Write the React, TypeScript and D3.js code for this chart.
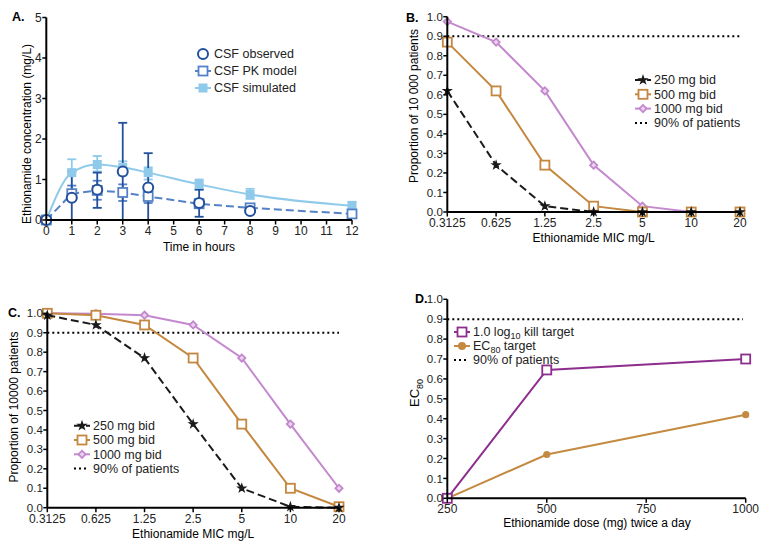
import React from "react";
import * as d3 from "d3";

// ---------- Panel A data ----------
const timeHours = [0, 1, 2, 3, 4, 6, 8, 12];
const obsTimes = [0, 1, 2, 3, 4, 6, 8];
const obsMean = [0, 0.55, 0.75, 1.2, 0.8, 0.42, 0.22];
const obsLow = [0, 0, 0.3, 0, 0, 0.08, 0.22];
const obsHigh = [0, 1.2, 1.17, 2.4, 1.65, 0.75, 0.22];
const pkMean = [0, 0.65, 0.73, 0.68, 0.58, 0.4, 0.3, 0.15];
const pkLow = [0, 0.5, 0.5, 0.47, 0.42, 0.3, 0.25, 0.05];
const pkHigh = [0, 0.85, 0.97, 0.88, 0.75, 0.52, 0.35, 0.25];
const simMean = [0, 1.17, 1.37, 1.3, 1.17, 0.88, 0.63, 0.35];
const simLow = [0, 0.6, 1.2, 1.1, 1.0, 0.75, 0.52, 0.25];
const simHigh = [0, 1.5, 1.58, 1.45, 1.3, 1.0, 0.77, 0.45];
const aXTicks = [0, 1, 2, 3, 4, 5, 6, 7, 8, 9, 10, 11, 12];
const aYTicks = [0, 1, 2, 3, 4, 5];

// ---------- Panels B & C data ----------
const micValues = [0.3125, 0.625, 1.25, 2.5, 5, 10, 20];
const micLabels = ["0.3125", "0.625", "1.25", "2.5", "5", "10", "20"];
const b250 = [0.62, 0.24, 0.03, 0.0, 0.0, 0.0, 0.0];
const b500 = [0.87, 0.62, 0.24, 0.03, 0.0, 0.0, 0.0];
const b1000 = [0.975, 0.87, 0.62, 0.24, 0.03, 0.0, 0.0];
const c250 = [0.99, 0.94, 0.77, 0.43, 0.1, 0.005, 0.0];
const c500 = [1.0, 0.99, 0.94, 0.77, 0.43, 0.1, 0.005];
const c1000 = [1.0, 0.998, 0.99, 0.94, 0.77, 0.43, 0.1];
const propTicks = [0, 0.1, 0.2, 0.3, 0.4, 0.5, 0.6, 0.7, 0.8, 0.9, 1.0];
const targetLevel = 0.9;

// ---------- Panel D data ----------
const doses = [250, 500, 1000];
const doseTicks = [250, 500, 750, 1000];
const killTarget = [0, 0.645, 0.7];
const ec80Target = [0, 0.22, 0.42];

const FONT = "'Liberation Sans', Arial, Helvetica, sans-serif";
const C_OBS = "#23509c";
const C_PK = "#5582c6";
const C_SIM = "#8fcaea";
const C_250 = "#1a1a1a";
const C_500 = "#c4873f";
const C_1000 = "#c488cf";
const C_KILL = "#8d2d8e";
const C_EC80 = "#c48a42";

function YAxis({ y, x, ticks, fmt, top, bottom, fs = 11.5 }: any) {
  return (
    <g>
      <line x1={x} x2={x} y1={top} y2={bottom} stroke="#000" strokeWidth={2} />
      {ticks.map((t: number) => (
        <g key={t}>
          <line x1={x - 4} x2={x} y1={y(t)} y2={y(t)} stroke="#000" strokeWidth={1.5} />
          <text x={x - 4.5} y={y(t) + 4.1} textAnchor="end" fontSize={fs} fill="#222">
            {fmt(t)}
          </text>
        </g>
      ))}
    </g>
  );
}

function XAxis({ x, y, ticks, labels, left, right }: any) {
  return (
    <g>
      <line x1={left} x2={right} y1={y} y2={y} stroke="#000" strokeWidth={2} />
      {ticks.map((t: number, i: number) => (
        <g key={i}>
          <line x1={x(t)} x2={x(t)} y1={y} y2={y + 4.5} stroke="#000" strokeWidth={1.5} />
          <text x={x(t)} y={y + 15} textAnchor="middle" fontSize={12} fill="#222">
            {labels ? labels[i] : t}
          </text>
        </g>
      ))}
    </g>
  );
}

const sym = (type: any, size: number) => d3.symbol().type(type).size(size)()!;

function Marker({ kind, x, y, color }: any) {
  if (kind === "star")
    return <path d={sym(d3.symbolStar, 18)} transform={`translate(${x},${y})`} fill={color} stroke={color} strokeWidth={1.2} />;
  if (kind === "openSquare")
    return <rect x={x - 4.5} y={y - 4.5} width={9} height={9} fill="#fff" stroke={color} strokeWidth={1.8} />;
  if (kind === "diamond")
    return <path d={sym(d3.symbolSquare, 26)} transform={`translate(${x},${y}) rotate(45)`} fill="#ead3ee" stroke={color} strokeWidth={1.8} />;
  if (kind === "circleFill")
    return <circle cx={x} cy={y} r={3.6} fill={color} />;
  if (kind === "squareFill")
    return <rect x={x - 4.5} y={y - 4.5} width={9} height={9} fill={color} />;
  if (kind === "openCircle")
    return <circle cx={x} cy={y} r={5} fill="#fff" stroke={color} strokeWidth={2} />;
  return null;
}

function Series({ xs, ys, x, y, color, dash, kind, curve }: any) {
  const line = d3
    .line<number>()
    .x((_, i) => x(xs[i]))
    .y((v) => y(v))
    .curve(curve || d3.curveLinear);
  return (
    <g>
      <path d={line(ys)!} fill="none" stroke={color} strokeWidth={2} strokeDasharray={dash || null} />
      {ys.map((v: number, i: number) => (
        <Marker key={i} kind={kind} x={x(xs[i])} y={y(v)} color={color} />
      ))}
    </g>
  );
}

function ErrorBars({ xs, lo, hi, x, y, color, w = 1.8 }: any) {
  return (
    <g>
      {xs.map((t: number, i: number) =>
        hi[i] - lo[i] > 0.001 ? (
          <g key={i} stroke={color} strokeWidth={w}>
            <line x1={x(t)} x2={x(t)} y1={y(lo[i])} y2={y(hi[i])} />
            <line x1={x(t) - 4.5} x2={x(t) + 4.5} y1={y(lo[i])} y2={y(lo[i])} />
            <line x1={x(t) - 4.5} x2={x(t) + 4.5} y1={y(hi[i])} y2={y(hi[i])} />
          </g>
        ) : null
      )}
    </g>
  );
}

function LegendRow({ x, y, color, kind, dash, label, line = true }: any) {
  return (
    <g>
      {line && (
        <line x1={x - 8} x2={x + 8} y1={y} y2={y} stroke={color} strokeWidth={2} strokeDasharray={dash || null} />
      )}
      <Marker kind={kind} x={x} y={y} color={color} />
      <text x={x + 11} y={y + 4.3} fontSize={12.5} fill="#222">
        {label}
      </text>
    </g>
  );
}

function DotLegend({ x, y, label }: any) {
  return (
    <g>
      <line x1={x - 8} x2={x + 6} y1={y} y2={y} stroke="#000" strokeWidth={2} strokeDasharray="2,3" />
      <text x={x + 11} y={y + 4.3} fontSize={12.5} fill="#222">
        {label}
      </text>
    </g>
  );
}

function PanelA() {
  const x = d3.scaleLinear().domain([0, 12]).range([46.3, 352]);
  const y = d3.scaleLinear().domain([0, 5]).range([220, 17.5]);
  return (
    <g>
      <text x={12} y={21} fontSize={12.5} fontWeight="bold">A.</text>
      <ErrorBars xs={timeHours} lo={simLow} hi={simHigh} x={x} y={y} color={C_SIM} />
      <ErrorBars xs={timeHours} lo={pkLow} hi={pkHigh} x={x} y={y} color={C_PK} />
      <ErrorBars xs={obsTimes} lo={obsLow} hi={obsHigh} x={x} y={y} color={C_OBS} />
      <Series xs={timeHours} ys={simMean} x={x} y={y} color={C_SIM} kind="squareFill" curve={d3.curveMonotoneX} />
      <Series xs={timeHours} ys={pkMean} x={x} y={y} color={C_PK} kind="openSquare" dash="8,4" />
      {obsMean.map((v, i) => (
        <Marker key={i} kind="openCircle" x={x(obsTimes[i])} y={y(v)} color={C_OBS} />
      ))}
      <YAxis y={y} x={46.3} ticks={aYTicks} fmt={(t: number) => String(t)} top={17.5} bottom={220} fs={12} />
      <XAxis x={x} y={220} ticks={aXTicks} left={46.3} right={352} />
      <text x={199} y={251} textAnchor="middle" fontSize={12}>Time in hours</text>
      <text transform="translate(31,134) rotate(-90)" textAnchor="middle" fontSize={12}>
        Ethionamide concentration (mg/L)
      </text>
      <LegendRow x={203} y={54} color={C_OBS} kind="openCircle" label="CSF observed" line={false} />
      <LegendRow x={203} y={71} color={C_PK} kind="openSquare" label="CSF PK model" />
      <LegendRow x={203} y={88} color={C_SIM} kind="squareFill" label="CSF simulated" />
    </g>
  );
}

function MicPanel({ label, lx, ly, xL, xR, y0, y1, s250, s500, s1000, legX, legY, ytitle, titleX, titleY }: any) {
  const x = d3.scaleLog().domain([0.3125, 20]).range([xL, xR]);
  const y = d3.scaleLinear().domain([0, 1]).range([y0, y1]);
  const dy = 14.3;
  return (
    <g>
      <text x={lx} y={ly} fontSize={12.5} fontWeight="bold">{label}</text>
      <line x1={xL} x2={xR} y1={y(targetLevel)} y2={y(targetLevel)} stroke="#000" strokeWidth={2} strokeDasharray="2,3" />
      <Series xs={micValues} ys={s1000} x={x} y={y} color={C_1000} kind="diamond" />
      <Series xs={micValues} ys={s500} x={x} y={y} color={C_500} kind="openSquare" />
      <Series xs={micValues} ys={s250} x={x} y={y} color={C_250} kind="star" dash="8,4" />
      <YAxis y={y} x={xL} ticks={propTicks} fmt={d3.format(".1f")} top={y1} bottom={y0} />
      <XAxis x={x} y={y0} ticks={micValues} labels={micLabels} left={xL} right={xR} />
      <text x={(xL + xR) / 2} y={y0 + 30} textAnchor="middle" fontSize={12}>Ethionamide MIC mg/L</text>
      <text transform={`translate(${titleX},${titleY}) rotate(-90)`} textAnchor="middle" fontSize={12}>
        {ytitle}
      </text>
      <LegendRow x={legX} y={legY} color={C_250} kind="star" dash="8,4" label="250 mg bid" />
      <LegendRow x={legX} y={legY + dy} color={C_500} kind="openSquare" label="500 mg bid" />
      <LegendRow x={legX} y={legY + 2 * dy} color={C_1000} kind="diamond" label="1000 mg bid" />
      <DotLegend x={legX} y={legY + 3 * dy} label="90% of patients" />
    </g>
  );
}

function PanelD() {
  const xL = 447.3, xR = 745.7, y0 = 498.3, y1 = 299.3;
  const x = d3.scaleLinear().domain([250, 1000]).range([xL, xR]);
  const y = d3.scaleLinear().domain([0, 1]).range([y0, y1]);
  return (
    <g>
      <text x={415} y={303} fontSize={12.5} fontWeight="bold">D.</text>
      <line x1={xL} x2={743} y1={y(targetLevel)} y2={y(targetLevel)} stroke="#000" strokeWidth={2} strokeDasharray="2,3" />
      <Series xs={doses} ys={ec80Target} x={x} y={y} color={C_EC80} kind="circleFill" />
      <Series xs={doses} ys={killTarget} x={x} y={y} color={C_KILL} kind="openSquare" />
      <YAxis y={y} x={xL} ticks={propTicks} fmt={d3.format(".1f")} top={y1} bottom={y0} />
      <XAxis x={x} y={y0} ticks={doseTicks} left={xL} right={xR} />
      <text x={597} y={527} textAnchor="middle" fontSize={12}>Ethionamide dose (mg) twice a day</text>
      <text transform="translate(419,393) rotate(-90)" textAnchor="middle" fontSize={13}>
        EC<tspan fontSize={9} dy={4}>80</tspan>
      </text>
      <g>
        <line x1={454} x2={470} y1={332} y2={332} stroke={C_KILL} strokeWidth={2} />
        <Marker kind="openSquare" x={462} y={332} color={C_KILL} />
        <text x={473} y={336.3} fontSize={12.5} fill="#222">
          1.0 log<tspan fontSize={9} dy={3}>10</tspan><tspan dy={-3}> kill target</tspan>
        </text>
      </g>
      <g>
        <line x1={454} x2={470} y1={346} y2={346} stroke={C_EC80} strokeWidth={2} />
        <circle cx={462} cy={346} r={4} fill={C_EC80} />
        <text x={473} y={350.3} fontSize={12.5} fill="#222">
          EC<tspan fontSize={9} dy={3}>80</tspan><tspan dy={-3}> target</tspan>
        </text>
      </g>
      <DotLegend x={462} y={360} label="90% of patients" />
    </g>
  );
}

export default function App() {
  return (
    <svg
      width={777}
      height={547}
      style={{ position: "absolute", left: 0, top: 0, background: "#fff" }}
      fontFamily={FONT}
    >
      <rect width={777} height={547} fill="#fff" />
      <PanelA />
      <MicPanel
        label="B." lx={406} ly={22} xL={447.3} xR={740} y0={212} y1={16.7}
        s250={b250} s500={b500} s1000={b1000}
        legX={643} legY={80}
        ytitle="Proportion of 10 000 patients" titleX={418} titleY={106}
      />
      <MicPanel
        label="C." lx={8} ly={317} xL={47.3} xR={339} y0={507.7} y1={313.3}
        s250={c250} s500={c500} s1000={c1000}
        legX={82} legY={425.7}
        ytitle="Proportion of 10000 patients" titleX={18} titleY={407}
      />
      <PanelD />
    </svg>
  );
}
